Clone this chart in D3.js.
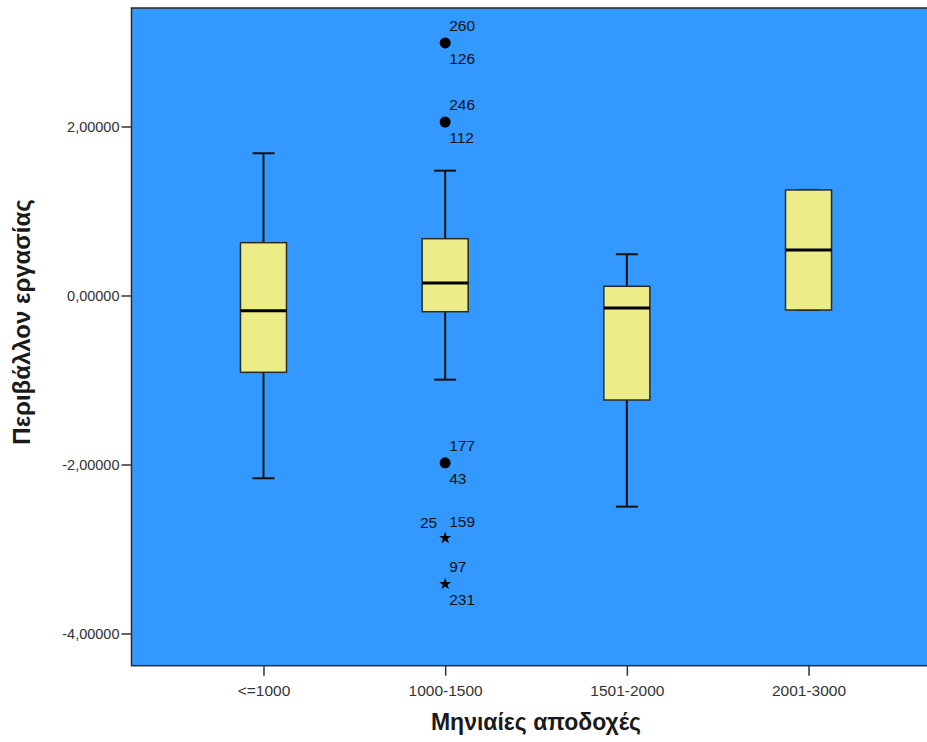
<!DOCTYPE html>
<html>
<head>
<meta charset="utf-8">
<script src="https://cdn.jsdelivr.net/npm/d3@7"></script>
<style>
  html, body { margin: 0; padding: 0; background: #ffffff; }
  svg { display: block; }
</style>
</head>
<body>
<svg id="chart" width="927" height="742"></svg>
<script>
// Salary groups and the box-plot statistics of the work-environment score
const categories = ["<=1000", "1000-1500", "1501-2000", "2001-3000"];
const whiskerHigh = [1.683, 1.477, 0.488, 1.249];
const q3Values    = [0.625, 0.672, 0.109, 1.249];
const medians     = [-0.180, 0.148, -0.148, 0.538];
const q1Values    = [-0.909, -0.192, -1.237, -0.172];
const whiskerLow  = [-2.163, -0.996, -2.499, -0.172];

// Outlying cases (all in the 1000-1500 group)
const outlierGroup  = ["1000-1500", "1000-1500", "1000-1500", "1000-1500", "1000-1500"];
const outlierValues = [2.988, 2.053, -1.980, -2.870, -3.414];
const outlierKinds  = ["circle", "circle", "circle", "star", "star"];
const outlierAbove  = [["260"], ["246"], ["177"], ["159"], ["97"]];
const outlierBelow  = [["126"], ["112"], ["43"], [], ["231"]];
const outlierLeft   = [[], [], [], ["25"], []];

const yTicks = [2, 0, -2, -4];
const yDomain = [-4.381, 3.402];

const fmt = v => d3.format(".5f")(v).replace(".", ",").replace("−", "-");

const svg = d3.select("#chart");
const plot = { left: 131.5, top: 8, bottom: 665.7, right: 940.5 };
const font = "'Liberation Sans', Arial, sans-serif";

const x = d3.scalePoint()
  .domain(categories)
  .range([plot.left, plot.right])
  .padding(0.7265);

const y = d3.scaleLinear()
  .domain(yDomain)
  .range([plot.bottom, plot.top]);

// plot background
svg.append("rect")
  .attr("x", plot.left).attr("y", plot.top)
  .attr("width", plot.right - plot.left).attr("height", plot.bottom - plot.top)
  .attr("fill", "#3399ff")
  .attr("stroke", "#2a2a2a").attr("stroke-width", 1.5);

// y axis
const yAxis = svg.append("g")
  .attr("transform", `translate(${plot.left},0)`)
  .call(d3.axisLeft(y).tickValues(yTicks).tickFormat(fmt).tickSize(10).tickSizeOuter(0));
yAxis.select(".domain").remove();
yAxis.selectAll(".tick line").attr("stroke", "#333").attr("stroke-width", 1.5);
yAxis.selectAll(".tick text")
  .attr("x", -12)
  .attr("fill", "#333")
  .style("font-family", font)
  .style("font-size", "14.5px");

// x axis
const xAxis = svg.append("g")
  .attr("transform", `translate(0,${plot.bottom})`)
  .call(d3.axisBottom(x).tickSize(10).tickSizeOuter(0));
xAxis.select(".domain").remove();
xAxis.selectAll(".tick line").attr("stroke", "#333").attr("stroke-width", 1.5);
xAxis.selectAll(".tick text")
  .attr("y", 19)
  .attr("fill", "#333")
  .style("font-family", font)
  .style("font-size", "15.5px");

// axis titles
svg.append("text")
  .attr("x", (plot.left + plot.right) / 2)
  .attr("y", 730)
  .attr("text-anchor", "middle")
  .attr("fill", "#1a1a1a")
  .style("font-family", font)
  .style("font-weight", "bold")
  .style("font-size", "23px")
  .text("Μηνιαίες αποδοχές");

svg.append("text")
  .attr("transform", "translate(30,322) rotate(-90)")
  .attr("text-anchor", "middle")
  .attr("fill", "#1a1a1a")
  .style("font-family", font)
  .style("font-weight", "bold")
  .style("font-size", "24px")
  .text("Περιβάλλον εργασίας");

// boxes
const boxW = 46, capW = 22;
const boxes = categories.map((c, i) => ({
  c, hi: whiskerHigh[i], q3: q3Values[i], med: medians[i], q1: q1Values[i], lo: whiskerLow[i]
}));

const g = svg.append("g");
boxes.forEach(b => {
  const cx = x(b.c);
  // whiskers
  g.append("line").attr("x1", cx).attr("x2", cx).attr("y1", y(b.hi)).attr("y2", y(b.q3))
    .attr("stroke", "#111").attr("stroke-width", 2);
  g.append("line").attr("x1", cx).attr("x2", cx).attr("y1", y(b.q1)).attr("y2", y(b.lo))
    .attr("stroke", "#111").attr("stroke-width", 2);
  // caps
  [b.hi, b.lo].forEach(v => {
    g.append("line").attr("x1", cx - capW / 2).attr("x2", cx + capW / 2)
      .attr("y1", y(v)).attr("y2", y(v))
      .attr("stroke", "#111").attr("stroke-width", 2);
  });
  // box
  g.append("rect")
    .attr("x", cx - boxW / 2).attr("y", y(b.q3))
    .attr("width", boxW).attr("height", y(b.q1) - y(b.q3))
    .attr("fill", "#ecec88")
    .attr("stroke", "#2b2b2b").attr("stroke-width", 1.5);
  // median
  g.append("line").attr("x1", cx - boxW / 2).attr("x2", cx + boxW / 2)
    .attr("y1", y(b.med)).attr("y2", y(b.med))
    .attr("stroke", "#000").attr("stroke-width", 3);
});

// outliers and their case labels
const labelStyle = sel => sel
  .attr("fill", "#111")
  .attr("dominant-baseline", "central")
  .style("font-family", font)
  .style("font-size", "15.5px");

outlierValues.forEach((v, i) => {
  const cx = x(outlierGroup[i]);
  const cy = y(v);
  if (outlierKinds[i] === "circle") {
    g.append("circle").attr("cx", cx).attr("cy", cy).attr("r", 5.5).attr("fill", "#000");
  } else {
    g.append("path")
      .attr("transform", `translate(${cx},${cy})`)
      .attr("d", d3.symbol(d3.symbolStar, 45)())
      .attr("fill", "#000");
  }
  outlierAbove[i].forEach(t => labelStyle(g.append("text").attr("x", cx + 4).attr("y", cy - 17).text(t)));
  outlierBelow[i].forEach(t => labelStyle(g.append("text").attr("x", cx + 4).attr("y", cy + 16).text(t)));
  outlierLeft[i].forEach(t => labelStyle(g.append("text").attr("x", cx - 8).attr("y", cy - 16)
    .attr("text-anchor", "end").text(t)));
});
</script>
</body>
</html>
